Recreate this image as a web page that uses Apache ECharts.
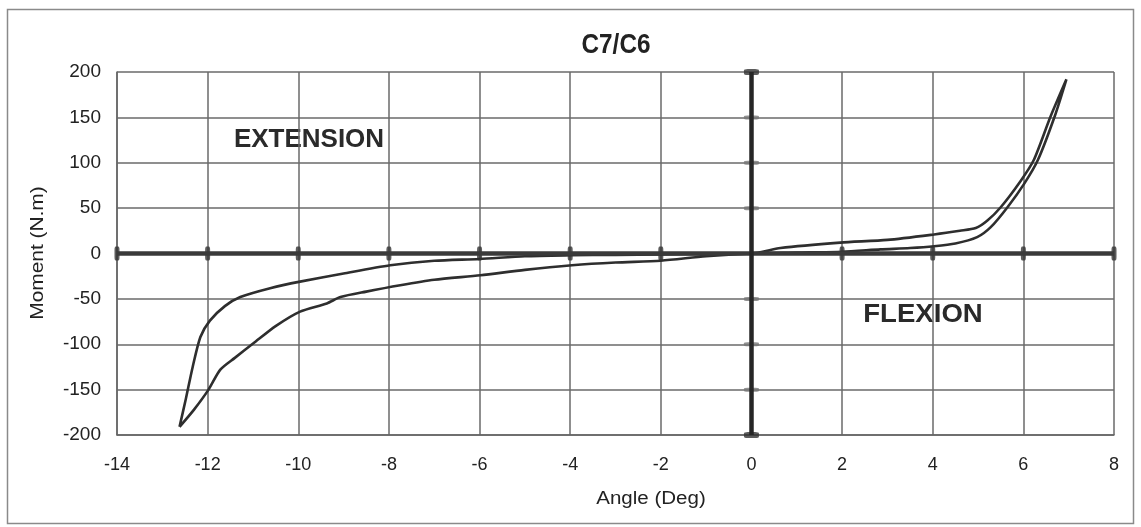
<!DOCTYPE html>
<html>
<head>
<meta charset="utf-8">
<script src="https://cdn.jsdelivr.net/npm/echarts@6/dist/echarts.min.js"></script>
<style>
html,body{margin:0;padding:0;background:#fff;}
#chart{width:1141px;height:527px;}
</style>
</head>
<body>
<div id="chart"></div>
<script>
// ---- data ----
const titleText = 'C7/C6';
const xAxisName = 'Angle (Deg)';
const yAxisName = 'Moment (N.m)';
const xTicks = [-14, -12, -10, -8, -6, -4, -2, 0, 2, 4, 6, 8];
const yTicks = [-200, -150, -100, -50, 0, 50, 100, 150, 200];

// branch 1: from extension peak, up along the upper-left curve, through origin, up to flexion peak
const branch1Angle  = [-12.62, -12.48, -12.33, -12.16, -11.95, -11.62, -11.28, -10.6, -9.96, -9.0, -7.97, -7.0, -6.0, -5.0, -4.0, -3.0, -2.0, -1.0, 0, 0.64, 1.96, 3.0, 4.03, 4.6, 4.95, 5.2, 5.5, 5.94, 6.23, 6.6, 6.95];
const branch1Moment = [-191, -160, -125, -92, -74, -58, -48, -38, -31, -22, -13, -8, -6, -3, -2, -1.5, -1, -0.5, 0, 6, 12, 15, 21, 25, 28, 36, 51, 80, 103, 151, 192];

// branch 2: from flexion peak, down along the inner-right curve, through origin, down the lower-left curve
const branch2Angle  = [6.95, 6.69, 6.32, 6.02, 5.65, 5.28, 4.98, 4.5, 4.03, 3.5, 2.85, 2.0, 1.0, 0, -1.0, -2.0, -3.0, -3.96, -5.0, -5.98, -7.0, -7.75, -8.5, -9.07, -9.37, -9.96, -10.5, -10.99, -11.4, -11.72, -11.98, -12.3, -12.62];
const branch2Moment = [192, 151, 103, 77, 51, 29, 18, 11, 8, 6, 4.5, 2, 1, 0, -3, -8, -10, -13, -18, -24, -29, -35, -42, -48, -55, -64, -80, -99, -115, -128, -150, -172, -191];

const extensionLabel = 'EXTENSION';
const flexionLabel = 'FLEXION';

// ---- build ----
const loopData = branch1Angle.map((a, i) => [a, branch1Moment[i]])
  .concat(branch2Angle.map((a, i) => [a, branch2Moment[i]]));
const xMarkers = xTicks.filter(v => v !== 0).map(v => [v, 0]);
const yMidMarkers = yTicks.filter(v => v !== 0 && Math.abs(v) !== 200).map(v => [0, v]);
const yEndMarkers = yTicks.filter(v => Math.abs(v) === 200).map(v => [0, v]);

const font = '"Liberation Sans", Arial, sans-serif';
const chart = echarts.init(document.getElementById('chart'), null, {renderer: 'canvas'});
chart.setOption({
  backgroundColor: '#ffffff',
  animation: false,
  grid: {left: 117, right: 27, top: 72, bottom: 92, containLabel: false},
  xAxis: {
    type: 'value', min: xTicks[0], max: xTicks[xTicks.length - 1], interval: 2,
    axisLine: {show: true, onZero: false, lineStyle: {color: '#666', width: 1.5}},
    axisTick: {show: false},
    splitLine: {show: true, lineStyle: {color: '#6a6a6a', width: 1.5}},
    axisLabel: {color: '#222', fontSize: 18, fontFamily: font, margin: 21,
      formatter: v => String(v)}
  },
  yAxis: {
    type: 'value', min: yTicks[0], max: yTicks[yTicks.length - 1], interval: 50,
    axisLine: {show: true, onZero: false, lineStyle: {color: '#666', width: 1.5}},
    axisTick: {show: false},
    splitLine: {show: true, lineStyle: {color: '#6a6a6a', width: 1.5}},
    axisLabel: {color: '#222', fontSize: 19, fontFamily: font, margin: 16}
  },
  graphic: [
    {type: 'rect', shape: {x: 7.5, y: 9.5, width: 1126, height: 514},
      style: {fill: 'none', stroke: '#8a8a8a', lineWidth: 1.5}, z: -1},
    {type: 'text', x: 616, y: 46, scaleX: 0.9, style: {text: titleText, font: 'bold 27px ' + font, fill: '#222', align: 'center', verticalAlign: 'middle'}},
    {type: 'text', x: 651, y: 499, scaleX: 1.14, style: {text: xAxisName, font: '18px ' + font, fill: '#222', align: 'center', verticalAlign: 'middle'}},
    {type: 'text', x: 38, y: 253, rotation: Math.PI / 2, scaleX: 1.16, style: {text: yAxisName, font: '18px ' + font, fill: '#222', align: 'center', verticalAlign: 'middle'}},
    {type: 'text', x: 309, y: 140, style: {text: extensionLabel, font: 'bold 26px ' + font, fill: '#2a2a2a', align: 'center', verticalAlign: 'middle'}},
    {type: 'text', x: 923, y: 315, scaleX: 1.06, style: {text: flexionLabel, font: 'bold 26px ' + font, fill: '#2a2a2a', align: 'center', verticalAlign: 'middle'}}
  ],
  series: [
    {
      type: 'line', data: [], silent: true,
      markLine: {
        silent: true, symbol: 'none', label: {show: false},
        data: [
          {yAxis: 0, lineStyle: {color: '#3a3a3a', width: 4.5, type: 'solid'}},
          {xAxis: 0, lineStyle: {color: '#262626', width: 4.5, type: 'solid'}}
        ]
      }
    },
    {type: 'scatter', data: xMarkers, symbol: 'roundRect', symbolSize: [5, 14],
      itemStyle: {color: '#333'}, z: 3, silent: true},
    {type: 'scatter', data: yMidMarkers, symbol: 'roundRect', symbolSize: [15, 4],
      itemStyle: {color: '#777'}, z: 3, silent: true},
    {type: 'scatter', data: yEndMarkers, symbol: 'roundRect', symbolSize: [15, 6],
      itemStyle: {color: '#333'}, z: 3, silent: true},
    {
      type: 'line', data: loopData, showSymbol: false, smooth: 0.25,
      lineStyle: {color: '#2e2e2e', width: 2.6}, z: 4
    }
  ]
});
</script>
</body>
</html>
